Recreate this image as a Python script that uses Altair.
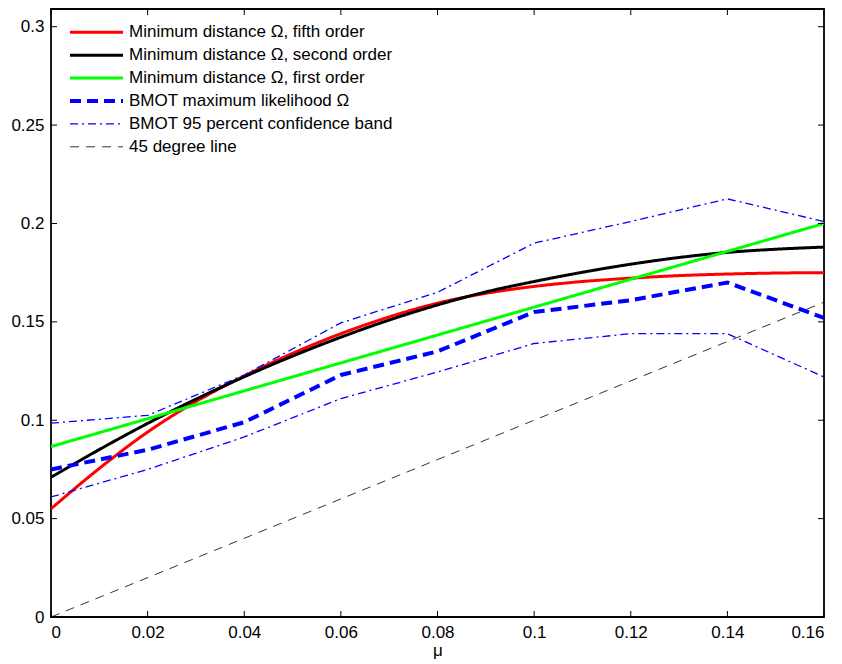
import altair as alt
import pandas as pd

# ---- data ----
mu_grid = [0.0, 0.02, 0.04, 0.06, 0.08, 0.10, 0.12, 0.14, 0.16]
bmot_mle = [0.075, 0.085, 0.099, 0.123, 0.135, 0.155, 0.161, 0.170, 0.152]
bmot_upper = [0.0985, 0.1025, 0.123, 0.1495, 0.165, 0.190, 0.201, 0.2125, 0.201]
bmot_lower = [0.061, 0.075, 0.0915, 0.111, 0.1245, 0.139, 0.144, 0.144, 0.122]

mu_fine = [0.0, 0.01, 0.02, 0.03, 0.04, 0.05, 0.06, 0.07, 0.08, 0.09,
           0.10, 0.11, 0.12, 0.13, 0.14, 0.15, 0.16]
md_fifth = [0.055, 0.0755, 0.094, 0.1095, 0.1225, 0.134, 0.144, 0.1525, 0.1595,
            0.1645, 0.168, 0.1705, 0.1722, 0.1735, 0.1743, 0.1748, 0.175]
md_second = [0.071, 0.0851, 0.0984, 0.1107, 0.1221, 0.1326, 0.1422, 0.1509, 0.1586,
             0.1652, 0.1705, 0.1752, 0.1793, 0.1827, 0.1853, 0.1869, 0.188]
mu_first = [0.0, 0.16]
md_first = [0.0866, 0.2]
mu_diag = [0.0, 0.16]
diag = [0.0, 0.16]

names = [
    "Minimum distance \u03a9, fifth order",
    "Minimum distance \u03a9, second order",
    "Minimum distance \u03a9, first order",
    "BMOT maximum likelihood \u03a9",
    "BMOT 95 percent confidence band",
    "45 degree line",
]
colors = ["#ff0000", "#000000", "#00ff00", "#0000ff", "#0000ff", "#000000"]
dashes = [[1, 0], [1, 0], [1, 0], [11, 6], [8, 4, 2, 4], [9, 7]]
widths = [3, 3, 3, 4, 1.3, 0.8]
interps = ["monotone", "monotone", "linear", "linear", "linear", "linear"]

x_ticks = [0, 0.02, 0.04, 0.06, 0.08, 0.10, 0.12, 0.14, 0.16]
y_ticks = [0, 0.05, 0.1, 0.15, 0.2, 0.25, 0.3]

rows = []
def add(series, xs, ys, part=""):
    for a, b in zip(xs, ys):
        rows.append({"series": series, "part": part, "mu": a, "val": b})

add(names[0], mu_fine, md_fifth)
add(names[1], mu_fine, md_second)
add(names[2], mu_first, md_first)
add(names[3], mu_grid, bmot_mle)
add(names[4], mu_grid, bmot_upper, "upper")
add(names[4], mu_grid, bmot_lower, "lower")
add(names[5], mu_diag, diag)
df = pd.DataFrame(rows)

W, H = 773, 608
FONT = "Liberation Sans"
FS = 17

xscale = alt.Scale(domain=[0, 0.16], nice=False, zero=False)
yscale = alt.Scale(domain=[0, 0.309], nice=False, zero=False)

xaxis = alt.Axis(values=x_ticks, format="~g", ticks=False, domain=False, grid=False,
                 labelFontSize=FS, labelPadding=7, labelColor="black",
                 labelFont=FONT, titleFont=FONT,
                 title="\u03bc", titleFontSize=FS, titleFontWeight="normal",
                 titleColor="black", titlePadding=2)
yaxis = alt.Axis(values=y_ticks, format="~g", ticks=False, domain=False, grid=False,
                 labelFontSize=FS, labelPadding=7, labelColor="black",
                 labelFont=FONT, title=None)

X = alt.X("mu:Q", scale=xscale, axis=xaxis)
Y = alt.Y("val:Q", scale=yscale, axis=yaxis)

layers = []
for i, s in enumerate(names):
    parts = sorted(df[df.series == s].part.unique())
    for p in parts:
        sub = alt.Chart(df).transform_filter(
            (alt.datum.series == s) & (alt.datum.part == p)
        ).mark_line(clip=True, color=colors[i], strokeWidth=widths[i],
                    strokeDash=dashes[i], interpolate=interps[i]).encode(x=X, y=Y)
        layers.append(sub)

xt = pd.DataFrame({"mu": x_ticks})
yt = pd.DataFrame({"val": y_ticks})
tick_style = dict(color="black", strokeWidth=1)
layers.append(alt.Chart(xt).mark_rule(**tick_style).encode(
    x=X, y=alt.value(H), y2=alt.value(H - 6)))
layers.append(alt.Chart(xt).mark_rule(**tick_style).encode(
    x=X, y=alt.value(0), y2=alt.value(6)))
layers.append(alt.Chart(yt).mark_rule(**tick_style).encode(
    y=Y, x=alt.value(0), x2=alt.value(6)))
layers.append(alt.Chart(yt).mark_rule(**tick_style).encode(
    y=Y, x=alt.value(W), x2=alt.value(W - 6)))

curves = alt.layer(*layers)

leg_df = pd.DataFrame({"series": names, "rank": list(range(len(names)))})
leg_scale = alt.Scale(domain=[-1.0175, 25.533], reverse=True, nice=False, zero=False)
LY = alt.Y("rank:Q", scale=leg_scale, axis=None)
leg_layers = []
for i, s in enumerate(names):
    leg_layers.append(
        alt.Chart(leg_df).transform_filter(alt.datum.series == s).mark_rule(
            color=colors[i], strokeWidth=widths[i], strokeDash=dashes[i]
        ).encode(x=alt.value(19), x2=alt.value(72), y=LY)
    )
leg_layers.append(
    alt.Chart(leg_df).mark_text(align="left", baseline="middle", fontSize=FS,
                                font=FONT, color="black").encode(
        x=alt.value(78), y=LY, text="series:N")
)
legend = alt.layer(*leg_layers)

chart = alt.layer(curves, legend).resolve_scale(y="independent").properties(
    width=W, height=H,
    autosize=alt.AutoSizeParams(type="none"),
    padding={"left": 43, "top": 1, "right": 10, "bottom": 47},
).configure(
    font=FONT, background="white"
).configure_view(stroke="black", strokeWidth=1.8)

chart.save("out.html", embed_options={"renderer": "svg", "actions": False})
